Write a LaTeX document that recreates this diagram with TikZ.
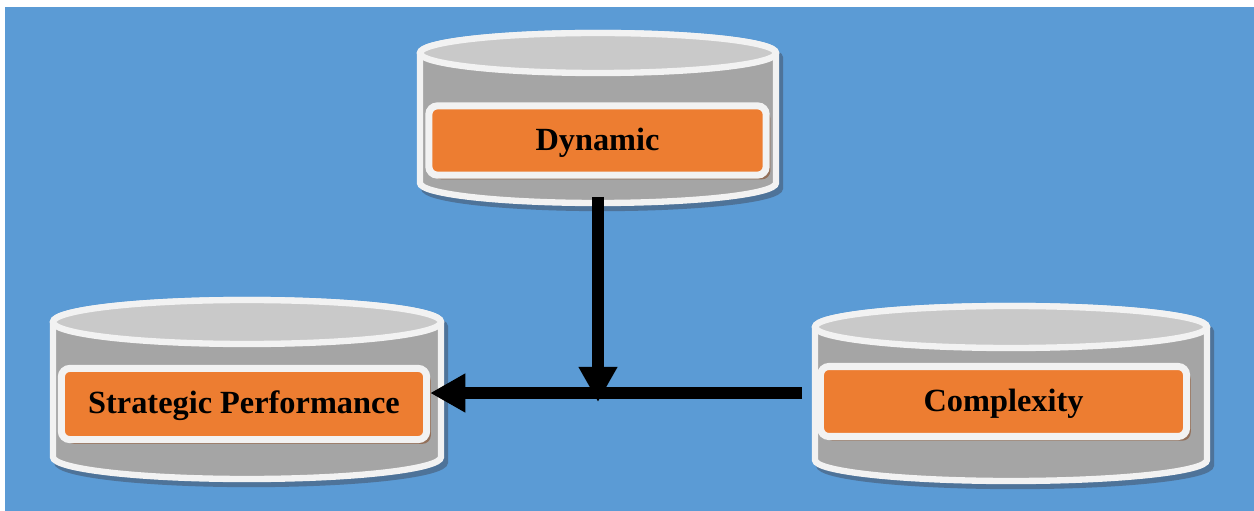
\documentclass[tikz,border=0pt]{standalone}
\usepackage{fontspec}
\setmainfont{Liberation Serif}
\usepackage{tikz}
\usetikzlibrary{arrows.meta}
\usetikzlibrary{shadows}
\definecolor{fondo}{HTML}{5B9BD5}
\definecolor{sombra}{HTML}{4E7399}
\definecolor{lateral}{HTML}{A5A5A5}
\definecolor{tapagris}{HTML}{C9C9C9}
\definecolor{borde}{HTML}{F2F2F2}
\definecolor{naranja}{HTML}{ED7D31}
\definecolor{sombracafe}{HTML}{93705A}

\begin{document}
\begin{tikzpicture}[
    x=0.025cm, y=0.025cm, % 1 unidad = 1 pixel de la figura
    font=\fontsize{23}{27}\selectfont\bfseries, % Fuente de las etiquetas
    tambor/.style={fill=lateral, draw=borde, line width=4.5pt}, % Cuerpo del cilindro
    tapa/.style={fill=tapagris, draw=borde, line width=4.5pt}, % Tapa superior
    caja/.style={fill=naranja, draw=borde, line width=5pt, rounded corners=6pt,
        inner sep=0pt, text height=15pt, text depth=1pt,
        drop shadow={shadow xshift=3pt, shadow yshift=-3pt,
        fill=sombracafe, opacity=1}}, % Recuadro naranja
    flecha/.style={-{Triangle[length=25pt, width=26pt]}, line width=8.5pt} % Conectores
]
    % --- Fondo ---
    \useasboundingbox (0,0) rectangle (1254,-511);
    \fill[white] (0,0) rectangle (1254,-511);
    \fill[fondo] (5,-7) rectangle (1254,-511);

    % --- Cilindros: centro x / tapa y / base y / radio x / radio y ---
    \foreach \cx/\ya/\yb/\rx/\ry in {598/-53/-183/178/20, 247/-322/-457/194/22, 1011/-327/-460/196/21} {
        % sombra
        \path[fill=sombra, draw=sombra, line width=4.5pt, shift={(4,-5)}]
            (\cx-\rx,\ya) -- (\cx-\rx,\yb)
            arc[start angle=180, end angle=360, x radius=\rx, y radius=\ry]
            -- (\cx+\rx,\ya)
            arc[start angle=0, end angle=180, x radius=\rx, y radius=\ry] -- cycle;
        % cuerpo
        \draw[tambor] (\cx-\rx,\ya) -- (\cx-\rx,\yb)
            arc[start angle=180, end angle=360, x radius=\rx, y radius=\ry]
            -- (\cx+\rx,\ya)
            arc[start angle=0, end angle=180, x radius=\rx, y radius=\ry] -- cycle;
        % tapa
        \draw[tapa] (\cx,\ya) ellipse [x radius=\rx, y radius=\ry];
    }

    % --- Recuadros ---
    \node[caja, minimum width=8.43cm, minimum height=1.73cm] (dyn) at (597.5,-140.5) {Dynamic};
    \node[caja, minimum width=9.13cm, minimum height=1.78cm] (strat) at (244,-404) {Strategic Performance};
    \node[caja, minimum width=9.15cm, minimum height=1.75cm] (comp) at (1003.5,-401.5) {Complexity};

    % --- Conectores ---
    \coordinate (dynbase) at (598,-197); % Base del cilindro superior
    \coordinate (cruce) at (598,-402);   % Punta sobre la linea horizontal
    \coordinate (compizq) at (802,-393); % Borde izquierdo del cilindro derecho
    \draw[flecha] (compizq) -- (compizq -| strat.east);
    \draw[flecha] (dynbase) -- (cruce);

\end{tikzpicture}
\end{document}
